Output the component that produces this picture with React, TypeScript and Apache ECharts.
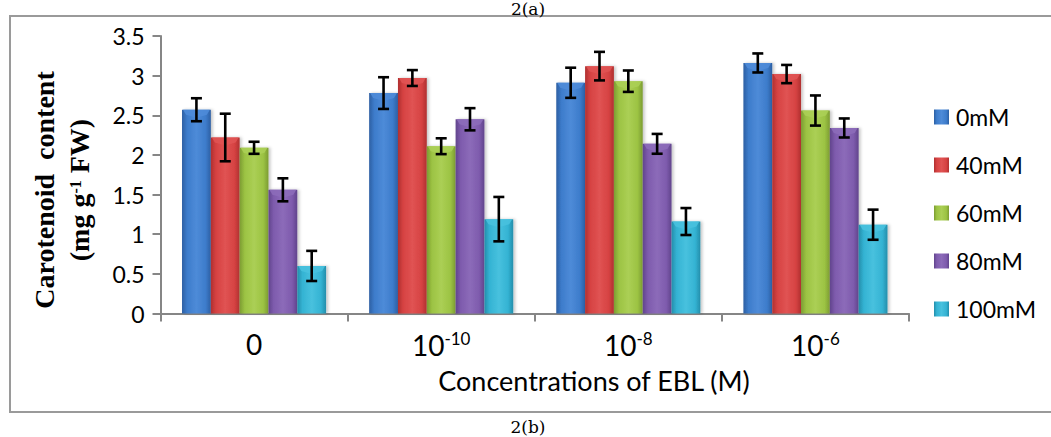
import React, { useEffect, useRef } from "react";
import * as echarts from "echarts";

// EBL concentration groups on the x axis (base + superscript exponent)
const categoryBase = ["0", "10", "10", "10"];
const categoryExp = ["", "-10", "-8", "-6"];
const categories = ["0", "10^-10", "10^-8", "10^-6"];

// NaCl treatments
const seriesNames = ["0mM", "40mM", "60mM", "80mM", "100mM"];

// Carotenoid content (mg g-1 FW) per treatment, one value per EBL group
const values0mM = [2.57, 2.78, 2.91, 3.16];
const values40mM = [2.22, 2.97, 3.12, 3.02];
const values60mM = [2.09, 2.11, 2.93, 2.56];
const values80mM = [1.56, 2.45, 2.14, 2.34];
const values100mM = [0.6, 1.19, 1.16, 1.12];

// Standard errors
const err0mM = [0.145, 0.2, 0.19, 0.12];
const err40mM = [0.3, 0.1, 0.18, 0.115];
const err60mM = [0.076, 0.1, 0.135, 0.19];
const err80mM = [0.145, 0.14, 0.125, 0.12];
const err100mM = [0.19, 0.28, 0.17, 0.19];

// Y axis ticks
const yMin = 0;
const yMax = 3.5;
const yStep = 0.5;

const allValues = [values0mM, values40mM, values60mM, values80mM, values100mM];
const allErrors = [err0mM, err40mM, err60mM, err80mM, err100mM];

// edge / mid / highlight shades for the bevelled bars
const palette = [
  ["#2C5FA3", "#3D7CCB", "#4E8BD8"],
  ["#B03030", "#D64242", "#E05353"],
  ["#7C9C32", "#9CC343", "#ABCF55"],
  ["#61448C", "#7E5BAD", "#8C6BB9"],
  ["#238EAB", "#34B3D3", "#48C1DE"],
];

const CATEGORY_GAP = 0.23;
const LATO = "Lato, 'Liberation Sans', sans-serif";
const SERIF = "'Liberation Serif', 'DejaVu Serif', serif";
const CAPTION = "'DejaVu Serif', 'Liberation Serif', serif";

function barFill(i: number) {
  const [edge, mid, hi] = palette[i];
  return new echarts.graphic.LinearGradient(0, 0, 1, 0, [
    { offset: 0, color: edge },
    { offset: 0.18, color: mid },
    { offset: 0.5, color: hi },
    { offset: 0.82, color: mid },
    { offset: 1, color: edge },
  ]);
}

export default function App() {
  const ref = useRef<HTMLDivElement>(null);

  useEffect(() => {
    if (!ref.current) return;
    const chart = echarts.init(ref.current, undefined, { renderer: "svg" });

    const barSeries = seriesNames.map((name, i) => ({
      name,
      type: "bar",
      data: allValues[i],
      barGap: "0%",
      barCategoryGap: `${CATEGORY_GAP * 100}%`,
      itemStyle: {
        color: barFill(i),
        shadowColor: "rgba(0,0,0,0.22)",
        shadowBlur: 3,
        shadowOffsetX: 2,
      },
    }));

    const errData: number[][] = [];
    categories.forEach((_, c) => {
      seriesNames.forEach((__, s) => {
        errData.push([c, s, allValues[s][c], allErrors[s][c]]);
      });
    });

    const errorSeries = {
      type: "custom",
      name: "error",
      data: errData,
      encode: { x: 0, y: 2 },
      z: 10,
      silent: true,
      renderItem: (_params: any, api: any) => {
        const c = api.value(0);
        const s = api.value(1);
        const v = api.value(2);
        const e = api.value(3);
        const catW = api.size([1, 0])[0];
        const groupW = catW * (1 - CATEGORY_GAP);
        const bw = groupW / seriesNames.length;
        const center = api.coord([c, 0])[0];
        const left = center - groupW / 2 + s * bw;
        const right = left + bw;
        const x = left + bw / 2;
        const top = api.coord([c, v])[1];
        const yHi = api.coord([c, v + e])[1];
        const yLo = api.coord([c, v - e])[1];
        const cap = 5.5;
        const hi = palette[s][2];
        const lineStyle = { stroke: "#000", lineWidth: 2.6 };
        return {
          type: "group",
          children: [
            {
              type: "polygon",
              shape: {
                points: [
                  [left + 1, top],
                  [right - 1, top],
                  [right - 4, top + 5],
                  [x, top + 8],
                  [left + 4, top + 5],
                ],
              },
              style: { fill: hi, opacity: 0.9 },
            },
            { type: "line", shape: { x1: x, y1: yHi, x2: x, y2: yLo }, style: lineStyle },
            { type: "line", shape: { x1: x - cap, y1: yHi, x2: x + cap, y2: yHi }, style: lineStyle },
            { type: "line", shape: { x1: x - cap, y1: yLo, x2: x + cap, y2: yLo }, style: lineStyle },
          ],
        };
      },
    };

    chart.setOption({
      animation: false,
      backgroundColor: "#fff",
      grid: { left: 160.5, top: 36, right: 142, bottom: 123.5, containLabel: false },
      legend: {
        orient: "vertical",
        left: 929,
        top: 100,
        data: seriesNames,
        icon: "rect",
        itemWidth: 15,
        itemHeight: 15,
        itemGap: 24,
        textStyle: { fontFamily: LATO, fontSize: 23, color: "#000", lineHeight: 24, padding: [0, 0, 0, 2] },
      },
      xAxis: {
        type: "category",
        data: categories,
        axisLine: { lineStyle: { color: "#868686", width: 2 } },
        axisTick: { show: true, length: 8, alignWithLabel: false, lineStyle: { color: "#868686", width: 2 } },
        axisLabel: {
          interval: 0,
          margin: 16,
          color: "#000",
          fontFamily: LATO,
          fontSize: 28,
          formatter: (_v: string, idx: number) =>
            categoryExp[idx] ? `{b|${categoryBase[idx]}}{sup|${categoryExp[idx]}}` : `{b|${categoryBase[idx]}}`,
          rich: {
            b: { fontFamily: LATO, fontSize: 28, color: "#000" },
            sup: { fontFamily: LATO, fontSize: 17, color: "#000", verticalAlign: "bottom", padding: [0, 0, 14, 0] },
          },
        },
      },
      yAxis: {
        type: "value",
        min: yMin,
        max: yMax,
        interval: yStep,
        splitLine: { show: false },
        axisLine: { show: true, lineStyle: { color: "#868686", width: 2 } },
        axisTick: { show: true, length: 8, lineStyle: { color: "#868686", width: 2 } },
        axisLabel: { margin: 16, color: "#000", fontFamily: LATO, fontSize: 23 },
      },
      graphic: [
        {
          type: "rect",
          shape: { x: 10, y: 16, width: 1060, height: 396 },
          style: { fill: "none", stroke: "#9A9A9A", lineWidth: 2 },
          z: -1,
        },
        {
          type: "text",
          x: 528,
          y: 0,
          style: { text: "2(a)", fontFamily: CAPTION, fontSize: 17, fill: "#000", align: "center", verticalAlign: "top" },
        },
        {
          type: "text",
          x: 528,
          y: 427,
          style: { text: "2(b)", fontFamily: CAPTION, fontSize: 17, fill: "#000", align: "center", verticalAlign: "middle" },
        },
        {
          type: "text",
          x: 594,
          y: 380,
          style: {
            text: "Concentrations of EBL (M)",
            fontFamily: LATO,
            fontSize: 27,
            fill: "#000",
            align: "center",
            verticalAlign: "middle",
          },
        },
        {
          type: "text",
          x: 62,
          y: 190,
          rotation: Math.PI / 2,
          style: {
            text: "{t|Carotenoid  content}\n{t|(mg g}{sup|-1}{t| FW)}",
            align: "center",
            verticalAlign: "middle",
            rich: {
              t: { fontFamily: SERIF, fontWeight: "bold", fontSize: 28, lineHeight: 35, fill: "#000" },
              sup: {
                fontFamily: SERIF,
                fontWeight: "bold",
                fontSize: 16,
                fill: "#000",
                verticalAlign: "bottom",
                padding: [0, 0, 14, 0],
              },
            },
          },
        },
      ],
      series: [...barSeries, errorSeries],
    });

    return () => chart.dispose();
  }, []);

  return (
    <div
      ref={ref}
      style={{ position: "fixed", left: 0, top: 0, width: 1051, height: 437, background: "#fff" }}
    />
  );
}
